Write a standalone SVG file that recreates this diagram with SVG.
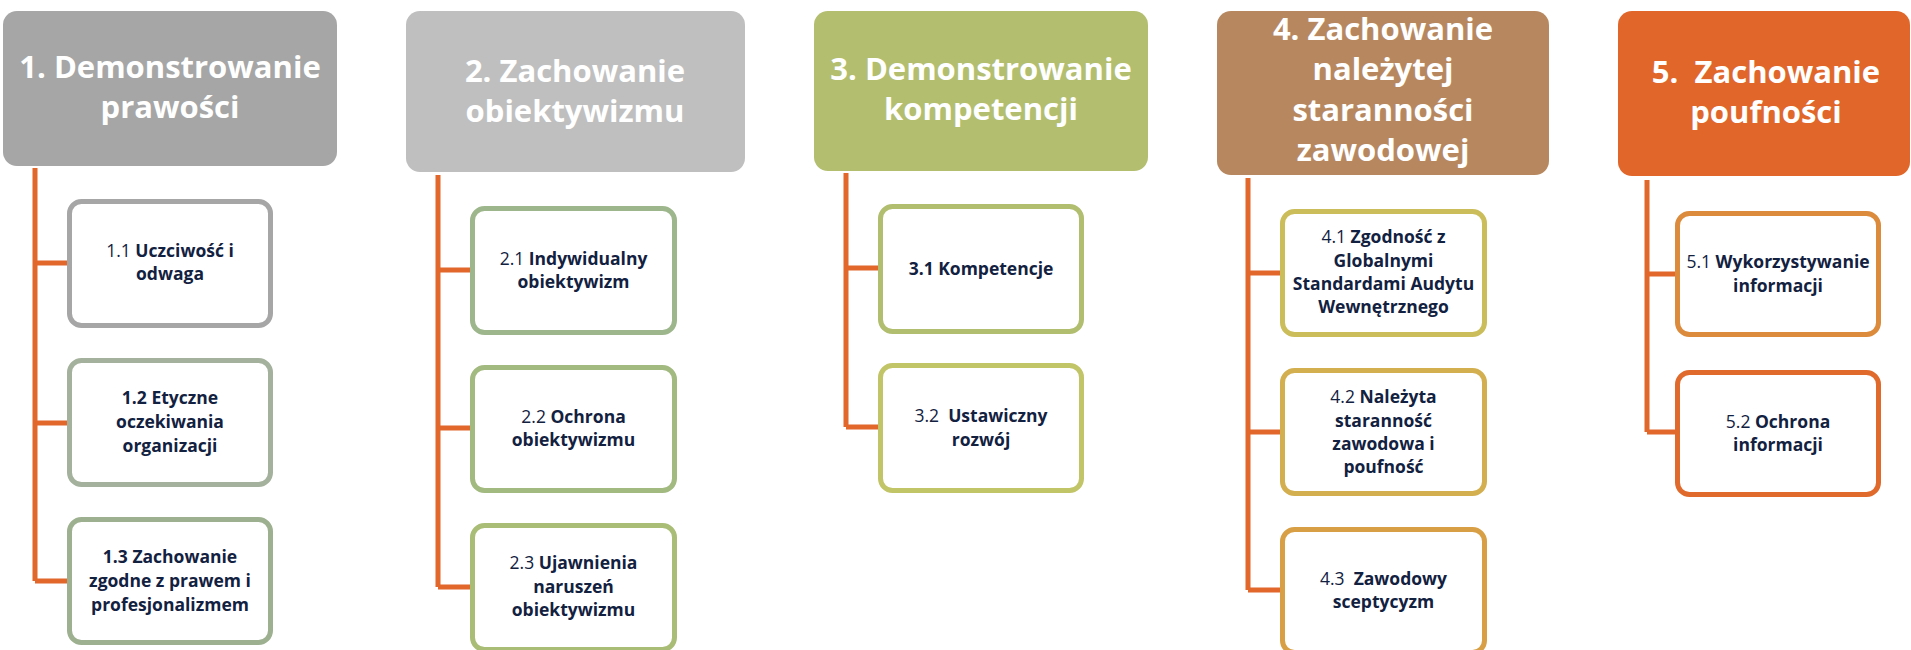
<svg xmlns="http://www.w3.org/2000/svg" width="1911" height="650" viewBox="0 0 1911 650">
<style>
.hdr{stroke:none}
.ht{font-family:"Open Sans","Liberation Sans",sans-serif;font-weight:700;font-size:31px;fill:#FFFFFF;text-anchor:middle}
.box{fill:#FFFFFF;stroke-width:5}
.ct{font-family:"Open Sans","Liberation Sans",sans-serif;font-weight:700;font-size:17.5px;fill:#12213F;text-anchor:middle}
.n{font-weight:400}
.conn{fill:none;stroke:#E2672A;stroke-width:5;stroke-linejoin:miter}
</style>
<rect width="1911" height="650" fill="#FFFFFF"/>
<g id="connectors">
<path class="conn" d="M35 168 V581 M35 263 H67 M35 423 H67 M35 581 H67"/>
<path class="conn" d="M438 175 V587 M438 270 H470 M438 428 H470 M438 587 H470"/>
<path class="conn" d="M846 173 V427 M846 268 H878 M846 427 H878"/>
<path class="conn" d="M1248 178 V590 M1248 273 H1280 M1248 432 H1280 M1248 590 H1280"/>
<path class="conn" d="M1647 180 V432 M1647 274 H1675 M1647 432 H1675"/>
</g>
<g id="h1">
<rect class="hdr" x="3" y="11" width="334" height="155" rx="14" fill="#A6A6A6"/>
<text class="ht" x="170" y="78">1. Demonstrowanie</text>
<text class="ht" x="170" y="118">prawości</text>
</g>
<g id="h2">
<rect class="hdr" x="406" y="11" width="339" height="161" rx="14" fill="#BFBFBF"/>
<text class="ht" x="575" y="82">2. Zachowanie</text>
<text class="ht" x="575" y="122">obiektywizmu</text>
</g>
<g id="h3">
<rect class="hdr" x="814" y="11" width="334" height="160" rx="14" fill="#B3BE6F"/>
<text class="ht" x="981" y="80">3. Demonstrowanie</text>
<text class="ht" x="981" y="120">kompetencji</text>
</g>
<g id="h4">
<rect class="hdr" x="1217" y="11" width="332" height="164" rx="14" fill="#B7885F"/>
<text class="ht" x="1383" y="40">4. Zachowanie</text>
<text class="ht" x="1383" y="80">należytej</text>
<text class="ht" x="1383" y="121">staranności</text>
<text class="ht" x="1383" y="161">zawodowej</text>
</g>
<g id="h5">
<rect class="hdr" x="1618" y="11" width="292" height="165" rx="14" fill="#E0662A"/>
<text class="ht" x="1766" y="83" xml:space="preserve">5.  Zachowanie</text>
<text class="ht" x="1766" y="123">poufności</text>
</g>
<g id="n11">
<rect class="box" x="69.5" y="201.5" width="201" height="124" rx="12" stroke="#A6A6A6"/>
<text class="ct" x="170" y="257"><tspan class="n">1.1 </tspan>Uczciwość i</text>
<text class="ct" x="170" y="280">odwaga</text>
</g>
<g id="n12">
<rect class="box" x="69.5" y="360.5" width="201" height="124" rx="12" stroke="#A4B19C"/>
<text class="ct" x="170" y="404">1.2 Etyczne</text>
<text class="ct" x="170" y="428">oczekiwania</text>
<text class="ct" x="170" y="452">organizacji</text>
</g>
<g id="n13">
<rect class="box" x="69.5" y="519.5" width="201" height="123" rx="12" stroke="#9DB08F"/>
<text class="ct" x="170" y="563">1.3 Zachowanie</text>
<text class="ct" x="170" y="587">zgodne z prawem i</text>
<text class="ct" x="170" y="611">profesjonalizmem</text>
</g>
<g id="n21">
<rect class="box" x="472.5" y="208.5" width="202" height="124" rx="12" stroke="#9DB68C"/>
<text class="ct" x="573.5" y="265"><tspan class="n">2.1 </tspan>Indywidualny</text>
<text class="ct" x="573.5" y="288">obiektywizm</text>
</g>
<g id="n22">
<rect class="box" x="472.5" y="367.5" width="202" height="123" rx="12" stroke="#A2B980"/>
<text class="ct" x="573.5" y="423"><tspan class="n">2.2 </tspan>Ochrona</text>
<text class="ct" x="573.5" y="446">obiektywizmu</text>
</g>
<g id="n23">
<rect class="box" x="472.5" y="525.5" width="202" height="124" rx="12" stroke="#A9BD76"/>
<text class="ct" x="573.5" y="569"><tspan class="n">2.3 </tspan>Ujawnienia</text>
<text class="ct" x="573.5" y="593">naruszeń</text>
<text class="ct" x="573.5" y="616">obiektywizmu</text>
</g>
<g id="n31">
<rect class="box" x="880.5" y="206.5" width="201" height="125" rx="12" stroke="#B1BD6F"/>
<text class="ct" x="981" y="275">3.1 Kompetencje</text>
</g>
<g id="n32">
<rect class="box" x="880.5" y="365.5" width="201" height="125" rx="12" stroke="#C2C468"/>
<text class="ct" x="981" y="422" xml:space="preserve"><tspan class="n">3.2  </tspan>Ustawiczny</text>
<text class="ct" x="981" y="446">rozwój</text>
</g>
<g id="n41">
<rect class="box" x="1282.5" y="211.5" width="202" height="123" rx="12" stroke="#CBBD5A"/>
<text class="ct" x="1383.5" y="243"><tspan class="n">4.1 </tspan>Zgodność z</text>
<text class="ct" x="1383.5" y="267">Globalnymi</text>
<text class="ct" x="1383.5" y="290">Standardami Audytu</text>
<text class="ct" x="1383.5" y="313">Wewnętrznego</text>
</g>
<g id="n42">
<rect class="box" x="1282.5" y="370.5" width="202" height="123" rx="12" stroke="#D3AF50"/>
<text class="ct" x="1383.5" y="403"><tspan class="n">4.2 </tspan>Należyta</text>
<text class="ct" x="1383.5" y="427">staranność</text>
<text class="ct" x="1383.5" y="450">zawodowa i</text>
<text class="ct" x="1383.5" y="473">poufność</text>
</g>
<g id="n43">
<rect class="box" x="1282.5" y="529.5" width="202" height="123" rx="12" stroke="#D89F45"/>
<text class="ct" x="1383.5" y="585" xml:space="preserve"><tspan class="n">4.3  </tspan>Zawodowy</text>
<text class="ct" x="1383.5" y="608">sceptycyzm</text>
</g>
<g id="n51">
<rect class="box" x="1677.5" y="213.5" width="201" height="121" rx="12" stroke="#DC8A3B"/>
<text class="ct" x="1778" y="268"><tspan class="n">5.1 </tspan>Wykorzystywanie</text>
<text class="ct" x="1778" y="292">informacji</text>
</g>
<g id="n52">
<rect class="box" x="1677.5" y="372.5" width="201" height="122" rx="12" stroke="#E06A2C"/>
<text class="ct" x="1778" y="428"><tspan class="n">5.2 </tspan>Ochrona</text>
<text class="ct" x="1778" y="451">informacji</text>
</g>
</svg>
